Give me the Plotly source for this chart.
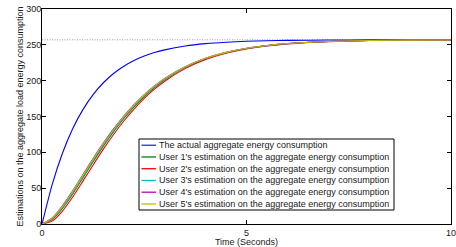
import plotly.graph_objects as go

# ---- data ----
time_s = [0, 0.25, 0.5, 0.75, 1, 1.25, 1.5, 1.75, 2, 2.25, 2.5, 2.75, 3,
          3.5, 4, 4.5, 5, 5.5, 6, 7, 8, 9, 10]
actual = [0, 55.4, 98.8, 132.9, 159.6, 180.6, 197.1, 210.0, 220.1, 228.1, 234.3,
          239.2, 243.0, 248.4, 251.7, 253.7, 255.0, 255.8, 256.2, 256.7, 256.9, 257.0, 257.0]
user1 = [0, 6.3, 21.7, 41.9, 64.3, 86.9, 108.6, 128.8, 147.2, 163.5, 177.9, 190.4,
         201.2, 218.2, 230.4, 238.9, 244.8, 248.8, 251.6, 254.6, 256.0, 256.6, 256.8]
user2 = [0, 4.0, 18.0, 37.6, 59.8, 82.4, 104.4, 124.9, 143.7, 160.4, 175.2, 188.1,
         199.2, 216.8, 229.4, 238.2, 244.3, 248.5, 251.4, 254.5, 256.0, 256.6, 256.8]
user3 = [0, 7.2, 23.2, 43.6, 66.1, 88.7, 110.3, 130.3, 148.6, 164.7, 179.0, 191.3,
         202.0, 218.8, 230.8, 239.2, 245.0, 248.9, 251.7, 254.6, 256.0, 256.6, 256.8]
user4 = [0, 8.6, 25.4, 46.2, 68.8, 91.4, 112.8, 132.7, 150.7, 166.6, 180.6, 192.7,
         203.2, 219.6, 231.4, 239.6, 245.3, 249.1, 251.8, 254.7, 256.0, 256.6, 256.8]
user5 = [0, 8.2, 24.6, 45.4, 67.9, 90.5, 112.0, 131.9, 150.0, 166.0, 180.0, 192.3,
         202.8, 219.3, 231.2, 239.5, 245.2, 249.1, 251.8, 254.7, 256.0, 256.6, 256.8]
target = 257
x_ticks = [0, 5, 10]
y_ticks = [0, 50, 100, 150, 200, 250, 300]

labels = [
    "The actual aggregate energy consumption",
    "User 1's estimation on the aggregate energy consumption",
    "User 2's estimation on the aggregate energy consumption",
    "User 3's estimation on the aggregate energy consumption",
    "User 4's estimation on the aggregate energy consumption",
    "User 5's estimation on the aggregate energy consumption",
]
series = [actual, user1, user2, user3, user4, user5]
colors = ["#0000ff", "#008000", "#ff0000", "#00bfbf", "#bf00bf", "#bfbf00"]

# ---- layout constants ----
W, H = 456, 247
ML, MR, MT, MB = 42, 5, 9, 23
FONT = "Liberation Sans, Arial, Helvetica, sans-serif"
TXT = "#1a1a1a"

fig = go.Figure()
fig.add_trace(go.Scatter(x=[x_ticks[0], x_ticks[-1]], y=[target, target], mode="lines",
                         line=dict(color="#9a9a9a", width=1, dash="1px,1.5px"),
                         showlegend=False, hoverinfo="skip"))
for name, vals, col in zip(labels, series, colors):
    fig.add_trace(go.Scatter(x=time_s, y=vals, mode="lines", name=name,
                             line=dict(color=col, width=1.1, shape="spline", smoothing=0.6),
                             showlegend=False))

# ---- hand-made compact legend (MATLAB style box) ----
pw = W - ML - MR
ph = H - MT - MB
def px_x(px):
    return (px - ML) / pw
def px_y(py):
    return (H - MB - py) / ph

box_l, box_r, box_t, box_b = 139, 394, 139, 210
row0, row_step = 145.2, 11.75
shapes = [dict(type="rect", xref="paper", yref="paper",
               x0=px_x(box_l), x1=px_x(box_r), y0=px_y(box_b), y1=px_y(box_t),
               line=dict(color="black", width=1), fillcolor="white", layer="above")]
annotations = []
for i, (name, col) in enumerate(zip(labels, colors)):
    ry = row0 + i * row_step
    shapes.append(dict(type="line", xref="paper", yref="paper",
                       x0=px_x(141.5), x1=px_x(156), y0=px_y(ry), y1=px_y(ry),
                       line=dict(color=col, width=1.3 if i else 1.1), layer="above"))
    annotations.append(dict(xref="paper", yref="paper", x=px_x(156.5), y=px_y(ry),
                            text=name, showarrow=False, xanchor="left", yanchor="middle",
                            font=dict(family=FONT, size=9, color=TXT)))

axis_common = dict(showline=True, linecolor="black", linewidth=1, mirror="ticks",
                   ticks="inside", ticklen=4, tickcolor="black", showgrid=False,
                   zeroline=False, tickfont=dict(family=FONT, size=9, color=TXT))

fig.update_layout(
    width=W, height=H,
    margin=dict(l=ML, r=MR, t=MT, b=MB, autoexpand=False),
    paper_bgcolor="white", plot_bgcolor="white",
    showlegend=False,
    hovermode=False,
    font=dict(family=FONT, size=9, color=TXT),
    xaxis=dict(range=[x_ticks[0], x_ticks[-1]], tickvals=x_ticks,
               ticklabeloverflow="allow",
               title=dict(text="Time (Seconds)", standoff=2,
                          font=dict(family=FONT, size=9, color=TXT)),
               automargin=False, **axis_common),
    yaxis=dict(range=[y_ticks[0], y_ticks[-1]], tickvals=y_ticks,
               ticklabelstandoff=-2, ticklabeloverflow="allow",
               title=dict(text="Estimations on the aggregate load energy consumption",
                          standoff=1, font=dict(family=FONT, size=9, color=TXT)),
               automargin=False, **axis_common),
    shapes=shapes,
    annotations=annotations,
)

fig.write_html("out.html",
               config={"displayModeBar": False},
               post_script="document.body.style.margin='0';document.body.style.overflow='hidden';")
